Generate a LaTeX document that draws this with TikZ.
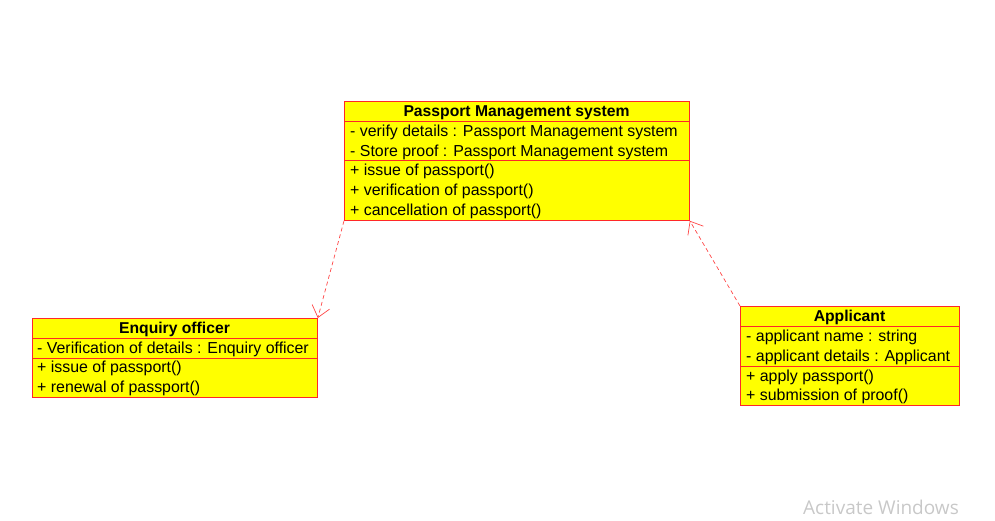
\documentclass[tikz,border=0pt]{standalone}
\usepackage{fontspec}
\setmainfont{Liberation Sans}
\newfontfamily\wmfont{Open Sans}
\usetikzlibrary{arrows.meta}
\definecolor{boxred}{RGB}{255,40,40}
\definecolor{boxyellow}{RGB}{255,255,0}
\definecolor{dashred}{RGB}{255,70,70}
\definecolor{wmgray}{RGB}{200,200,200}
\tikzset{
  umlbox/.style={draw=boxred, fill=boxyellow, line width=0.8pt, rectangle, inner sep=0pt, anchor=north west},
  sepline/.style={draw=boxred, line width=0.8pt},
  umltitle/.style={font=\fontsize{15.7}{17}\selectfont\bfseries, inner sep=0pt, anchor=base},
  umltext/.style={font=\fontsize{15.9}{17}\selectfont, inner sep=0pt, anchor=base west},
  dep/.style={draw=dashred, dashed, line width=0.7pt, dash pattern=on 4pt off 3pt, -{Straight Barb[length=11pt,width=18pt,line width=0.7pt]}}
}
\begin{document}
\begin{tikzpicture}[x=1pt,y=-1pt]
\useasboundingbox (0,0) rectangle (995,520);
% Passport Management system
\node[umlbox, minimum width=345pt, minimum height=119pt] (pms) at (344,101) {};
\draw[sepline] (344,121) -- (689,121);
\draw[sepline] (344,160) -- (689,160);
\node[umltitle] (pmsT) at (516.5,116.5) {Passport Management system};
\node[umltext] (pmsA1) at (350,136.5) {- verify details : Passport Management system};
\node[umltext] (pmsA2) at (350,156) {- Store proof : Passport Management system};
\node[umltext] (pmsO1) at (350,175.5) {+ issue of passport()};
\node[umltext] (pmsO2) at (350,195.5) {+ verification of passport()};
\node[umltext] (pmsO3) at (350,215.5) {+ cancellation of passport()};
% Enquiry officer
\node[umlbox, minimum width=285pt, minimum height=79pt] (enq) at (32,318) {};
\draw[sepline] (32,338) -- (317,338);
\draw[sepline] (32,358) -- (317,358);
\node[umltitle] (enqT) at (174.5,333.5) {Enquiry officer};
\node[umltext] (enqA1) at (37,353.5) {- Verification of details : Enquiry officer};
\node[umltext] (enqO1) at (37,372.5) {+ issue of passport()};
\node[umltext] (enqO2) at (37,392.5) {+ renewal of passport()};
% Applicant
\node[umlbox, minimum width=219pt, minimum height=99pt] (app) at (740,306) {};
\draw[sepline] (740,326) -- (959,326);
\draw[sepline] (740,366) -- (959,366);
\node[umltitle] (appT) at (849.5,321.5) {Applicant};
\node[umltext] (appA1) at (746,341.5) {- applicant name : string};
\node[umltext] (appA2) at (746,361.5) {- applicant details : Applicant};
\node[umltext] (appO1) at (746,381.5) {+ apply passport()};
\node[umltext] (appO2) at (746,400.5) {+ submission of proof()};
% connectors
\draw[dep] (pms.south west) -- (enq.north east);
\draw[dep] (app.north west) -- (pms.south east);
% watermark
\node[font=\wmfont\fontsize{19}{21}\selectfont, text=wmgray, inner sep=0pt, anchor=base west] (wm) at (803,514) {Activate Windows};
\end{tikzpicture}
\end{document}
